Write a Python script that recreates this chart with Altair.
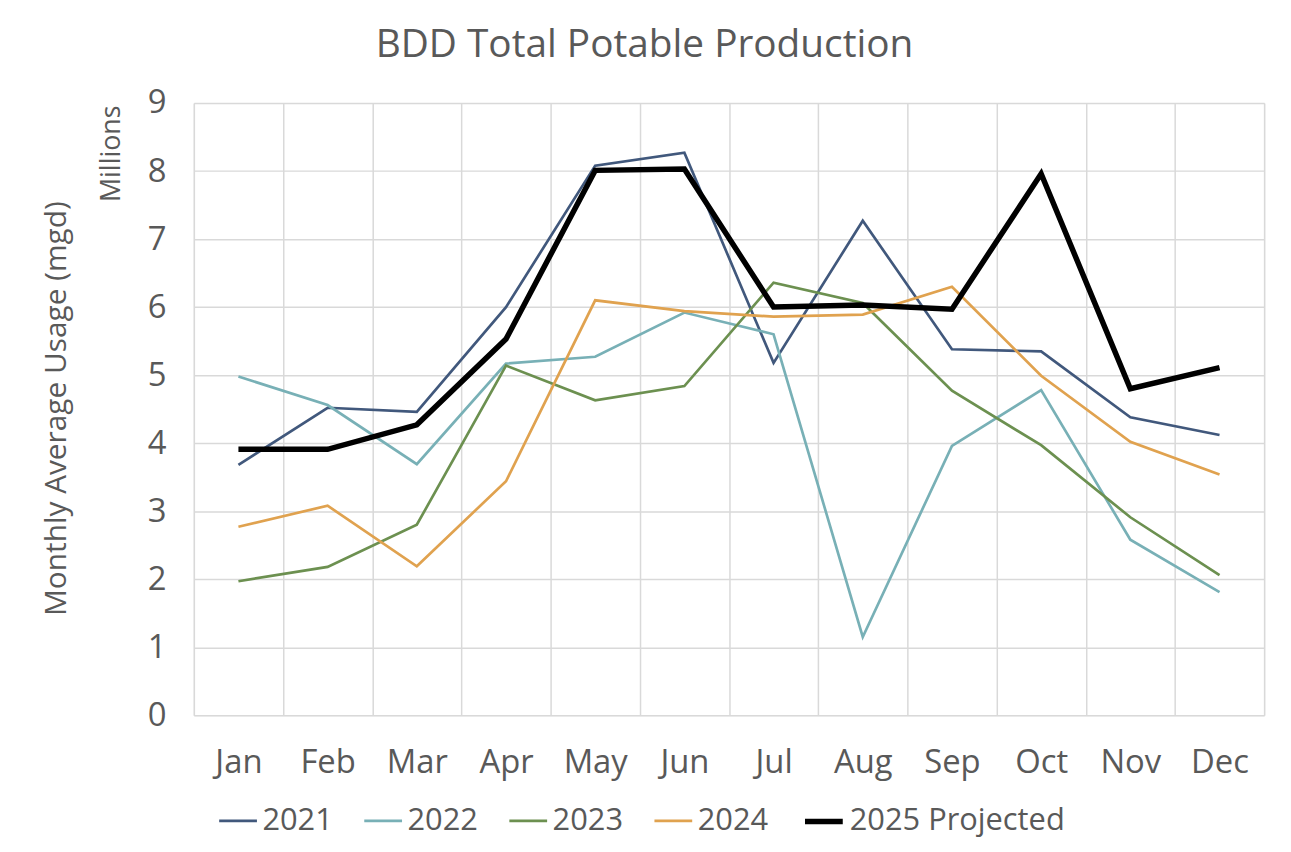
import altair as alt
import pandas as pd

months = ["Jan", "Feb", "Mar", "Apr", "May", "Jun", "Jul", "Aug", "Sep", "Oct", "Nov", "Dec"]
series_names = ["2021", "2022", "2023", "2024", "2025 Projected"]

v2021 = [3.68, 4.52, 4.46, 6.00, 8.08, 8.27, 5.18, 7.27, 5.38, 5.35, 4.38, 4.12]
v2022 = [4.98, 4.56, 3.69, 5.17, 5.27, 5.92, 5.60, 1.15, 3.96, 4.78, 2.58, 1.81]
v2023 = [1.97, 2.18, 2.80, 5.14, 4.63, 4.84, 6.36, 6.06, 4.77, 3.97, 2.91, 2.06]
v2024 = [2.77, 3.08, 2.19, 3.44, 6.10, 5.94, 5.86, 5.89, 6.30, 4.99, 4.02, 3.54]
v2025 = [3.91, 3.91, 4.27, 5.53, 8.01, 8.03, 6.00, 6.03, 5.97, 7.96, 4.80, 5.11]

colors = ["#41587C", "#78B0B6", "#6C9050", "#E0A24F", "#000000"]
widths = [2.7, 2.7, 2.7, 2.7, 5.5]

all_vals = [v2021, v2022, v2023, v2024, v2025]
rows = []
for name, vals in zip(series_names, all_vals):
    for m, v in zip(months, vals):
        rows.append({"Month": m, "Value": v, "Series": name})
df = pd.DataFrame(rows)

FONT = "Open Sans"
GRAY = "#595959"
GRID = "#D9D9D9"

legend_cfg = dict(
    title=None,
    orient="none",
    direction="horizontal",
    legendX=24,
    legendY=701,
    symbolType="stroke",
    symbolSize=1444,
    labelFontSize=31,
    labelColor=GRAY,
    labelFont=FONT,
    labelOffset=4,
    labelLimit=400,
    columnPadding=26,
)

lines = alt.Chart(df).mark_line(strokeJoin="miter").encode(
    x=alt.X(
        "Month:N",
        sort=months,
        scale=alt.Scale(paddingInner=0, paddingOuter=0),
        axis=alt.Axis(
            title=None,
            labelAngle=0,
            labelFontSize=33,
            labelColor=GRAY,
            labelFont=FONT,
            labelPadding=32,
            ticks=False,
            tickSize=0,
            domain=False,
            grid=True,
            gridColor=GRID,
            gridWidth=1.5,
            tickBand="extent",
        ),
    ),
    y=alt.Y(
        "Value:Q",
        scale=alt.Scale(domain=[0, 9], nice=False),
        axis=alt.Axis(
            values=[0, 1, 2, 3, 4, 5, 6, 7, 8, 9],
            title="Monthly Average Usage (mgd)",
            titleFontSize=30,
            titleFontWeight="normal",
            titleColor=GRAY,
            titleFont=FONT,
            titleAngle=270,
            titleX=-138,
            titleY=307,
            titleBaseline="middle",
            titleAlign="center",
            labelFontSize=33,
            labelColor=GRAY,
            labelFont=FONT,
            labelPadding=28,
            ticks=False,
            tickSize=0,
            domain=False,
            grid=True,
            gridColor=GRID,
            gridWidth=1.5,
        ),
    ),
    color=alt.Color(
        "Series:N",
        sort=series_names,
        scale=alt.Scale(domain=series_names, range=colors),
        legend=alt.Legend(**legend_cfg),
    ),
    strokeWidth=alt.StrokeWidth(
        "Series:N",
        sort=series_names,
        scale=alt.Scale(type="ordinal", domain=series_names, range=widths),
        legend=alt.Legend(**legend_cfg),
    ),
)

millions = alt.Chart(pd.DataFrame({"t": ["Millions"]})).mark_text(
    angle=270, fontSize=27, font=FONT, color=GRAY, align="center", baseline="middle"
).encode(text="t:N", x=alt.value(-82), y=alt.value(51))

chart = alt.layer(lines, millions).properties(
    width=1077,
    height=616,
    title=alt.TitleParams(
        text="BDD Total Potable Production",
        fontSize=39,
        font=FONT,
        fontWeight="normal",
        color=GRAY,
        anchor="middle",
        dx=-85,
        offset=22,
    ),
    autosize=alt.AutoSizeParams(type="none"),
    padding={"left": 187, "top": 93, "right": 19, "bottom": 135},
).configure_view(stroke=GRID, strokeWidth=1.5).configure(background="white")

chart.save("out.html", embed_options={"renderer": "svg", "actions": False})
